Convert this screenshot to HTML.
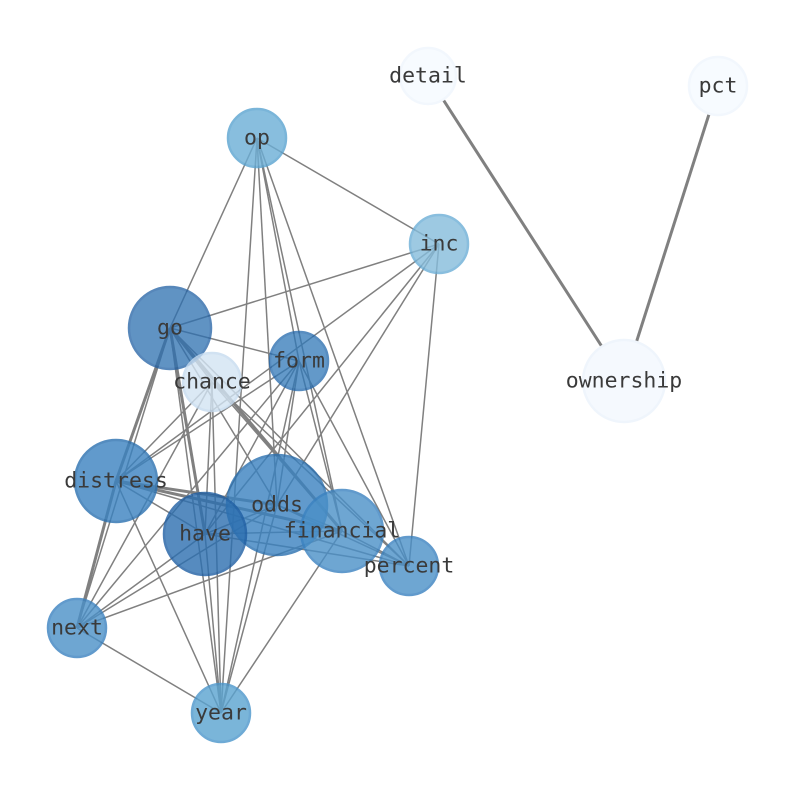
<!DOCTYPE html>
<html><head><style>body{margin:0;background:#fff}svg{display:block}</style></head><body>
<svg width="794" height="790" xmlns="http://www.w3.org/2000/svg">
<g stroke="#808080" stroke-width="1.5" fill="none">
<line x1="428" y1="76" x2="624" y2="381" stroke-width="3"/>
<line x1="718" y1="86" x2="624" y2="381" stroke-width="3"/>
<line x1="170" y1="328" x2="212" y2="382"/>
<line x1="170" y1="328" x2="299" y2="361"/>
<line x1="170" y1="328" x2="116" y2="481" stroke-width="3"/>
<line x1="170" y1="328" x2="205" y2="534" stroke-width="3"/>
<line x1="170" y1="328" x2="277" y2="505"/>
<line x1="170" y1="328" x2="342" y2="531" stroke-width="3"/>
<line x1="170" y1="328" x2="409" y2="566"/>
<line x1="170" y1="328" x2="77" y2="628"/>
<line x1="170" y1="328" x2="221" y2="713"/>
<line x1="170" y1="328" x2="439" y2="244"/>
<line x1="170" y1="328" x2="257" y2="138"/>
<line x1="257" y1="138" x2="439" y2="244"/>
<line x1="257" y1="138" x2="299" y2="361"/>
<line x1="257" y1="138" x2="277" y2="505"/>
<line x1="257" y1="138" x2="342" y2="531"/>
<line x1="257" y1="138" x2="409" y2="566"/>
<line x1="257" y1="138" x2="221" y2="713"/>
<line x1="439" y1="244" x2="205" y2="534"/>
<line x1="439" y1="244" x2="277" y2="505"/>
<line x1="439" y1="244" x2="409" y2="566"/>
<line x1="439" y1="244" x2="116" y2="481"/>
<line x1="299" y1="361" x2="116" y2="481"/>
<line x1="299" y1="361" x2="205" y2="534"/>
<line x1="299" y1="361" x2="277" y2="505"/>
<line x1="299" y1="361" x2="342" y2="531"/>
<line x1="299" y1="361" x2="409" y2="566"/>
<line x1="299" y1="361" x2="77" y2="628"/>
<line x1="299" y1="361" x2="221" y2="713"/>
<line x1="212" y1="382" x2="116" y2="481"/>
<line x1="212" y1="382" x2="205" y2="534"/>
<line x1="212" y1="382" x2="221" y2="713"/>
<line x1="212" y1="382" x2="342" y2="531"/>
<line x1="212" y1="382" x2="409" y2="566"/>
<line x1="212" y1="382" x2="77" y2="628"/>
<line x1="116" y1="481" x2="205" y2="534"/>
<line x1="116" y1="481" x2="277" y2="505" stroke-width="3"/>
<line x1="116" y1="481" x2="342" y2="531" stroke-width="3"/>
<line x1="116" y1="481" x2="409" y2="566"/>
<line x1="116" y1="481" x2="77" y2="628" stroke-width="3"/>
<line x1="116" y1="481" x2="221" y2="713"/>
<line x1="205" y1="534" x2="277" y2="505"/>
<line x1="205" y1="534" x2="342" y2="531"/>
<line x1="205" y1="534" x2="409" y2="566"/>
<line x1="205" y1="534" x2="77" y2="628"/>
<line x1="205" y1="534" x2="221" y2="713"/>
<line x1="277" y1="505" x2="342" y2="531"/>
<line x1="277" y1="505" x2="409" y2="566"/>
<line x1="277" y1="505" x2="77" y2="628"/>
<line x1="277" y1="505" x2="221" y2="713"/>
<line x1="342" y1="531" x2="409" y2="566"/>
<line x1="342" y1="531" x2="77" y2="628"/>
<line x1="342" y1="531" x2="221" y2="713"/>
<line x1="77" y1="628" x2="221" y2="713"/>
</g>
<g stroke-width="2.5">
<circle cx="428" cy="76" r="28" fill="#f7fbff" stroke="#f2f7fd"/>
<circle cx="718" cy="86" r="29" fill="#f7fbff" stroke="#f2f7fd"/>
<circle cx="624" cy="381" r="41" fill="#f5f9fe" stroke="#eff5fc"/>
<circle cx="257" cy="138" r="29" fill="#6baed6" stroke="#5aa3d0" opacity="0.8"/>
<circle cx="439" cy="244" r="29" fill="#85bcdc" stroke="#6caed6" opacity="0.8"/>
<circle cx="170" cy="328" r="41" fill="#2c6fb0" stroke="#1f5fa3" opacity="0.75"/>
<circle cx="212" cy="382" r="29" fill="#d3e4f3" stroke="#c6dbef" opacity="0.8"/>
<circle cx="299" cy="361" r="29" fill="#2f78b8" stroke="#2167ac" opacity="0.75"/>
<circle cx="116" cy="481" r="41" fill="#3a82c0" stroke="#2a70b0" opacity="0.8"/>
<circle cx="277" cy="505" r="50" fill="#3a82c0" stroke="#2a70b0" opacity="0.8"/>
<circle cx="205" cy="534" r="41" fill="#2c6fb0" stroke="#1f5fa3" opacity="0.8"/>
<circle cx="342" cy="531" r="41" fill="#4a90c8" stroke="#3a82c0" opacity="0.8"/>
<circle cx="409" cy="566" r="29" fill="#4a90c8" stroke="#3a82c0" opacity="0.8"/>
<circle cx="77" cy="628" r="29" fill="#4a90c8" stroke="#3a82c0" opacity="0.8"/>
<circle cx="221" cy="713" r="29" fill="#5aa3d0" stroke="#4a96cb" opacity="0.8"/>
</g>
<g font-family="DejaVu Sans Mono, Liberation Mono, monospace" font-size="21.5" fill="#3a3a3a" text-anchor="middle" dominant-baseline="central">
<text x="428" y="76">detail</text>
<text x="718" y="86">pct</text>
<text x="624" y="381">ownership</text>
<text x="257" y="138">op</text>
<text x="439" y="244">inc</text>
<text x="170" y="328">go</text>
<text x="299" y="361">form</text>
<text x="212" y="382">chance</text>
<text x="116" y="481">distress</text>
<text x="277" y="505">odds</text>
<text x="205" y="534">have</text>
<text x="342" y="531">financial</text>
<text x="409" y="566">percent</text>
<text x="77" y="628">next</text>
<text x="221" y="713">year</text>
</g>
</svg>
</body></html>
